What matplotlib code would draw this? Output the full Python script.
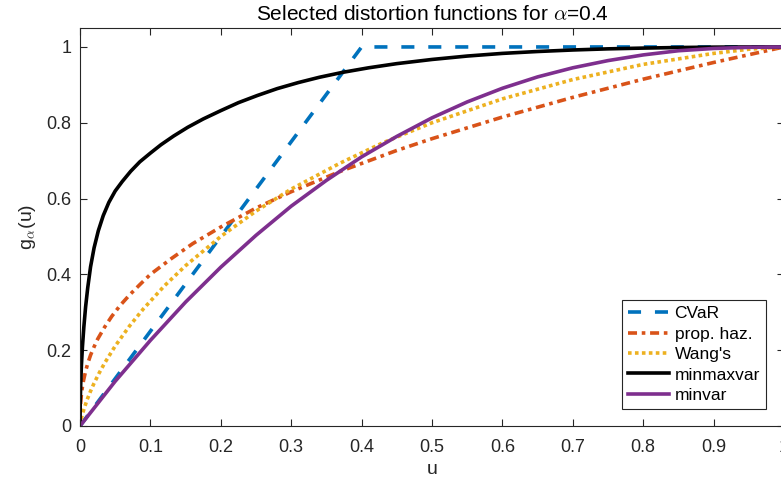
import matplotlib
matplotlib.use("Agg")
import matplotlib.pyplot as plt

plt.rcParams['font.family'] = ['Liberation Sans', 'DejaVu Sans']
plt.rcParams['lines.scale_dashes'] = False
plt.rcParams['mathtext.fontset'] = 'cm'

# ---- data ----
cvar_u = [0.0, 0.4, 1.0]
cvar_g = [0.0, 1.0, 1.0]

ph_u = [0, 0.0002, 0.0005, 0.001, 0.002, 0.003, 0.005, 0.008, 0.011, 0.015, 0.02, 0.025,
        0.035, 0.045, 0.057, 0.07, 0.085, 0.1, 0.115, 0.13, 0.16, 0.2,
        0.25, 0.3, 0.37, 0.45, 0.5, 0.6, 0.7, 0.75, 0.8, 0.9, 1.0]
ph_g = [0, 0.033, 0.048, 0.063, 0.083, 0.098, 0.12, 0.145, 0.165, 0.187, 0.209, 0.229,
        0.261, 0.289, 0.318, 0.345, 0.373, 0.40, 0.421, 0.442, 0.481, 0.525,
        0.575, 0.618, 0.672, 0.727, 0.758, 0.815, 0.867, 0.891, 0.915, 0.959, 1.0]

wang_u = [0, 0.001, 0.002, 0.005, 0.01, 0.015, 0.02, 0.027, 0.035, 0.05, 0.07, 0.09,
          0.12, 0.15, 0.2, 0.25, 0.3, 0.37, 0.43, 0.5, 0.6, 0.7, 0.8, 0.9, 0.95, 1.0]
wang_g = [0, 0.012, 0.021, 0.041, 0.069, 0.092, 0.113, 0.139, 0.166, 0.211, 0.263, 0.309,
          0.37, 0.423, 0.50, 0.567, 0.625, 0.694, 0.747, 0.80, 0.863, 0.914, 0.954,
          0.983, 0.994, 1.0]

mmv_u = [0, 0.0003, 0.001, 0.002, 0.0035, 0.0055, 0.008, 0.011, 0.015, 0.02, 0.026,
         0.033, 0.041, 0.05, 0.06, 0.072, 0.085, 0.1, 0.115, 0.133, 0.153, 0.175,
         0.2, 0.225, 0.252, 0.28, 0.31, 0.34, 0.373, 0.41, 0.45, 0.5, 0.55, 0.6,
         0.65, 0.7, 0.75, 0.8, 0.85, 0.9, 0.95, 1.0]
mmv_g = [0, 0.06, 0.11, 0.16, 0.21, 0.262, 0.315, 0.365, 0.42, 0.47, 0.515,
         0.555, 0.59, 0.62, 0.645, 0.672, 0.697, 0.72, 0.742, 0.765, 0.788, 0.81,
         0.832, 0.853, 0.872, 0.89, 0.906, 0.92, 0.933, 0.945, 0.956, 0.967, 0.976,
         0.983, 0.988, 0.992, 0.995, 0.997, 0.9985, 0.9995, 1.0, 1.0]

mv_u = [0, 0.05, 0.1, 0.15, 0.2, 0.25, 0.3, 0.35, 0.4, 0.45, 0.5, 0.55, 0.6, 0.65,
        0.7, 0.75, 0.8, 0.85, 0.9, 0.95, 1.0]
mv_g = [0, 0.118, 0.226, 0.327, 0.419, 0.503, 0.58, 0.648, 0.71, 0.764, 0.813, 0.855,
        0.891, 0.921, 0.945, 0.964, 0.979, 0.990, 0.996, 0.999, 1.0]

labels = ['CVaR', 'prop. haz.', "Wang's", 'minmaxvar', 'minvar']
xticks = [0, 0.1, 0.2, 0.3, 0.4, 0.5, 0.6, 0.7, 0.8, 0.9, 1.0]
xticklabels = ['0', '0.1', '0.2', '0.3', '0.4', '0.5', '0.6', '0.7', '0.8', '0.9', '1']
yticks = [0, 0.2, 0.4, 0.6, 0.8, 1.0]
yticklabels = ['0', '0.2', '0.4', '0.6', '0.8', '1']

W, H = 781, 482
fig = plt.figure(figsize=(W / 100, H / 100), dpi=100)
ax = fig.add_axes([80 / W, 1 - 426 / H, 704 / W, 398 / H])

lw = 2.6
ax.plot(cvar_u, cvar_g, color='#0072BD', lw=lw, linestyle=(0, (9.4, 10.0)), label=labels[0])
ax.plot(ph_u, ph_g, color='#D95319', lw=lw, linestyle=(0, (6.5, 3.4, 2.6, 3.4)), label=labels[1])
ax.plot(wang_u, wang_g, color='#EDB120', lw=lw, linestyle=(0, (2.6, 2.4)), label=labels[2])
ax.plot(mmv_u, mmv_g, color='black', lw=lw, label=labels[3], solid_joinstyle='round')
ax.plot(mv_u, mv_g, color='#7E2F8E', lw=lw, label=labels[4], solid_joinstyle='round')

ax.set_xlim(0, 1)
ax.set_ylim(0, 1.05)
ax.set_xticks(xticks)
ax.set_xticklabels(xticklabels)
ax.set_yticks(yticks)
ax.set_yticklabels(yticklabels)

tc = '#262626'
ax.tick_params(direction='in', length=5, width=0.8, colors=tc, labelsize=13,
               top=True, right=True)
ax.tick_params(axis='x', pad=9)
ax.tick_params(axis='y', pad=6)
for s in ax.spines.values():
    s.set_color(tc)
    s.set_linewidth(0.8)

ax.set_title(r'Selected distortion functions for $\alpha$=0.4', fontsize=15, color='black', pad=6)
ax.set_xlabel('u', fontsize=14, color=tc, labelpad=4)
ax.set_ylabel(r'g$_{\alpha}$(u)', fontsize=14, color=tc, labelpad=6)

leg = ax.legend(loc='lower right', bbox_to_anchor=((766 - 80) / 704, 17 / 398),
                borderaxespad=0, fontsize=12.5, handlelength=2.4, handletextpad=0.3,
                labelspacing=0.3, borderpad=0.35, fancybox=False, framealpha=1,
                edgecolor=tc)
leg.get_frame().set_linewidth(0.8)

fig.savefig('out.png', dpi=100)
